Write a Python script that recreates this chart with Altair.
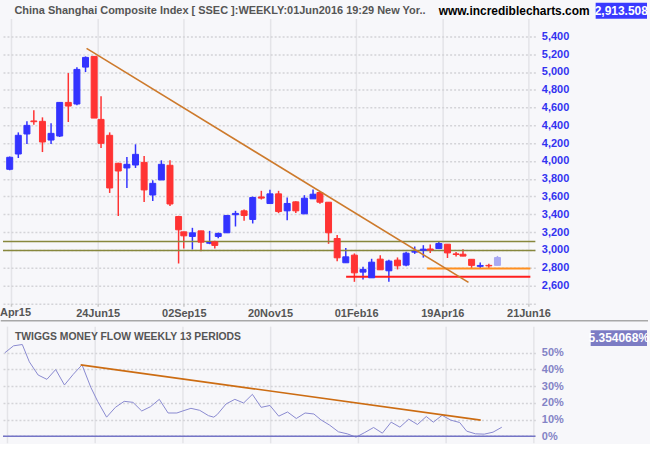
import altair as alt
import pandas as pd

FONT = "Liberation Sans"

# ---- weekly bars: x is the trading-day index of each week's last session ----
bar_t = [-1, 4, 9, 13, 18, 23, 28, 33, 38, 43,
         48, 52, 57, 62, 67, 72, 77, 82, 87, 92,
         97, 100, 105, 110, 115, 118, 120, 125, 130, 135,
         140, 145, 150, 155, 160, 165, 170, 175, 179, 184,
         189, 194, 199, 204, 209, 214, 219, 224, 229, 234,
         239, 243, 248, 253, 258, 262, 267, 272, 277, 282]
bar_open = [3906, 4078, 4303, 4450, 4445, 4235, 4280, 4658, 4640, 5055,
            5175, 4467, 4288, 3973, 3921, 3954, 3984, 3617, 3786, 3951,
            3375, 3203, 3151, 3214, 3075, 3091, 3151, 3192, 3395, 3439,
            3342, 3595, 3521, 3630, 3439, 3540, 3405, 3574, 3645, 3536,
            3128, 2855, 2941, 2750, 2686, 2896, 2765, 2885, 2829, 2975,
            2995, 3010, 3015, 3064, 2955, 2951, 2894, 2815, 2826, 2826]
bar_high = [4050, 4321, 4445, 4569, 4490, 4423, 4660, 4988, 5052, 5175,
            5178, 4726, 4321, 3980, 4044, 4187, 4056, 3782, 4007, 4007,
            3383, 3203, 3248, 3214, 3214, 3102, 3196, 3391, 3439, 3454,
            3600, 3664, 3675, 3664, 3589, 3548, 3615, 3679, 3656, 3536,
            3166, 3020, 2960, 2810, 2900, 2941, 2889, 2915, 2978, 3038,
            3053, 3060, 3098, 3064, 2977, 3008, 2894, 2857, 2845, 2932]
bar_low = [3895, 4033, 4190, 4408, 4100, 4190, 4269, 4438, 4625, 4999,
           4482, 4145, 3640, 3381, 3696, 3921, 3539, 3550, 3786, 3494,
           2847, 3016, 3005, 2986, 3064, 3016, 3132, 3192, 3263, 3327,
           3297, 3566, 3521, 3413, 3334, 3416, 3405, 3574, 3518, 3068,
           2873, 2855, 2641, 2667, 2686, 2776, 2641, 2780, 2817, 2955,
           2913, 2966, 3015, 2909, 2925, 2928, 2789, 2789, 2792, 2826]
bar_close = [4041, 4288, 4400, 4441, 4213, 4310, 4658, 4617, 5029, 5164,
             4482, 4198, 3696, 3887, 3962, 4074, 3674, 3748, 3962, 3516,
             3226, 3158, 3192, 3087, 3083, 3050, 3184, 3387, 3410, 3387,
             3589, 3582, 3630, 3431, 3522, 3439, 3581, 3626, 3536, 3192,
             2911, 2922, 2742, 2781, 2862, 2776, 2874, 2821, 2963, 2980,
             3008, 2998, 3072, 2966, 2948, 2930, 2826, 2825, 2820, 2913.508]
tmf_pct = [50.0, 54.2, 55.0, 44.6, 36.7, 34.1, 40.0, 30.7, 37.1, 42.8,
           29.3, 20.7, 11.4, 17.3, 20.9, 20.3, 15.1, 17.7, 22.1, 13.9,
           13.9, 15.0, 16.7, 15.5, 12.3, 11.4, 13.0, 19.3, 22.1, 19.9,
           25.1, 17.3, 18.4, 12.0, 14.5, 10.6, 13.9, 13.3, 9.8, 6.6,
           2.6, 1.4, -0.6, 2.2, 5.2, 1.8, 8.4, 5.4, 10.2, 7.0,
           11.8, 8.4, 12.5, 9.6, 8.2, 3.0, 1.4, 1.2, 2.4, 5.354068]

x_tick_t = [0, 50, 100, 150, 200, 250, 300]
x_tick_labels = ["Apr15", "24Jun15", "02Sep15", "20Nov15", "01Feb16", "19Apr16", "21Jun16"]
price_ticks = list(range(2400, 5401, 200))
pct_ticks = [0, 10, 20, 30, 40, 50]

olive_levels = [3095, 2993]
red_support = {"level": [2698], "t0": [194.2], "t1": [301.1]}
orange_support = {"level": [2792], "t0": [241.2], "t1": [301.1]}

trend_price_t = [43.6, 265.2]
trend_price = [5265, 2634]
trend_tmf_t = [42.2, 270.0]
trend_tmf = [42.8, 9.6]

title_text = "China Shanghai Composite Index [ SSEC ]:WEEKLY:01Jun2016 19:29 New Yor.."
site_text = "www.incrediblecharts.com"
panel2_title = "TWIGGS MONEY FLOW WEEKLY 13 PERIODS"
last_price = [2913.508]
last_tmf = [5.354068]

# ---- tables ----
kinds = ["down" if c < o else "up" for o, c in zip(bar_open, bar_close)]
kinds[-1] = "partial"
bars = pd.DataFrame({"t": bar_t, "open": bar_open, "high": bar_high,
                     "low": bar_low, "close": bar_close, "kind": kinds, "tmf": tmf_pct})
olive_df = pd.DataFrame({"level": olive_levels})
red_df = pd.DataFrame(red_support)
orange_df = pd.DataFrame(orange_support)
trend1_df = pd.DataFrame({"t": trend_price_t, "price": trend_price})
trend2_df = pd.DataFrame({"t": trend_tmf_t, "pct": trend_tmf})
zero_df = pd.DataFrame({"pct": [0]})

W = 534
H1 = 285.5
H2 = 117

xs = alt.Scale(domain=[-2, 301.1], nice=False, zero=False)
ys1 = alt.Scale(domain=[2400, 5600], nice=False, zero=False)
ys2 = alt.Scale(domain=[-4, 66], nice=False, zero=False)

# the first label is cut by the left edge in the original; it is drawn as text below
axis_labels = [""] + x_tick_labels[1:]
label_js = ("[" + ",".join(f"'{s}'" for s in axis_labels) + "][indexof(["
            + ",".join(str(v) for v in x_tick_t) + "], datum.value)]")

x_axis_top = alt.Axis(
    values=x_tick_t, labelExpr=label_js, title=None, grid=True,
    gridColor="#e4e4e8", gridWidth=1.5, domain=False, ticks=True, tickSize=3,
    tickColor="#c8c8c8", tickWidth=1.5, labelFont=FONT, labelFontSize=11,
    labelFontWeight="bold", labelColor="#555555", labelPadding=1,
    labelFlush=False, labelOverlap=False,
)
x_axis_bottom = alt.Axis(values=x_tick_t, labels=False, ticks=False, domain=False,
                         grid=True, gridColor="#e4e4e8", gridWidth=1.5, title=None)
y_axis_top = alt.Axis(
    orient="right", values=price_ticks, title=None,
    labelExpr="datum.value < 2500 ? '' : format(datum.value, ',')",
    grid=True, gridDash=[2, 2], gridColor="#d4d4d8", gridWidth=1.5,
    domain=False, ticks=False, labelPadding=6, labelFont=FONT, labelFontSize=11,
    labelFontWeight="bold", labelColor="#3333f0", labelAlign="left",
)
y_axis_bottom = alt.Axis(
    orient="right", values=pct_ticks, title=None, labelExpr="datum.value + '%'",
    grid=True, gridDash=[2, 2], gridColor="#d4d4d8", gridWidth=1.5,
    domain=False, ticks=False, labelPadding=6, labelFont=FONT, labelFontSize=11,
    labelFontWeight="bold", labelColor="#8383c6", labelAlign="left",
)


def X1(f):
    return alt.X(f, scale=xs, axis=x_axis_top)


def Y1(f):
    return alt.Y(f, scale=ys1, axis=y_axis_top)


def X2(f):
    return alt.X(f, scale=xs, axis=x_axis_bottom)


def Y2(f):
    return alt.Y(f, scale=ys2, axis=y_axis_bottom)


candle_color = alt.Color("kind:N", legend=None,
                         scale=alt.Scale(domain=["down", "up", "partial"],
                                         range=["#ff3333", "#3333ff", "#a9a9f2"]))

base = alt.Chart(bars)
wicks = base.mark_rule(strokeWidth=1.5).encode(
    x=X1("t:Q"), y=Y1("low:Q"), y2="high:Q", color=candle_color)
bodies = base.mark_bar(size=6, strokeWidth=1).encode(
    x=X1("t:Q"), y=Y1("open:Q"), y2="close:Q", color=candle_color, stroke=candle_color)
olive = alt.Chart(olive_df).mark_rule(color="#87873c", strokeWidth=1.6).encode(
    y=Y1("level:Q"))
red_line = alt.Chart(red_df).mark_rule(color="#ff1f1f", strokeWidth=2).encode(
    x=X1("t0:Q"), x2="t1:Q", y=Y1("level:Q"))
orange_line = alt.Chart(orange_df).mark_rule(color="#ff8f1f", strokeWidth=2).encode(
    x=X1("t0:Q"), x2="t1:Q", y=Y1("level:Q"))
trend1 = alt.Chart(trend1_df).mark_line(color="#cd7a2c", strokeWidth=1.6).encode(
    x=X1("t:Q"), y=Y1("price:Q"))

head_df = pd.DataFrame({"title": [title_text], "site": [site_text], "v": last_price,
                        "first": [x_tick_labels[0]]})
head = alt.Chart(head_df)
title_mark = head.mark_text(align="left", baseline="middle", font=FONT, fontSize=11,
                            fontWeight="bold", color="#555555").encode(
    x=alt.value(11.5), y=alt.value(-8), text="title:N")
site_mark = head.mark_text(align="left", baseline="middle", font=FONT, fontSize=12,
                           fontWeight="bold", color="#000000").encode(
    x=alt.value(437), y=alt.value(-8), text="site:N")
box1 = head.mark_rect(color="#3a3aff").encode(
    x=alt.value(594.5), x2=alt.value(646), y=alt.value(-16), y2=alt.value(0))
box1_text = head.mark_text(align="center", baseline="middle", font=FONT, fontSize=12,
                           fontWeight="bold", color="#ffffff").encode(
    x=alt.value(620.2), y=alt.value(-8), text=alt.Text("v:Q", format=",.3f"))
first_label = head.mark_text(align="left", baseline="top", font=FONT, fontSize=11,
                             fontWeight="bold", color="#555555").encode(
    x=alt.value(-3), y=alt.value(H1 + 4), text="first:N")

top = alt.layer(wicks, olive, red_line, orange_line, bodies, trend1, title_mark,
                site_mark, box1, box1_text, first_label).properties(width=W, height=H1)

tmf_line = base.mark_line(color="#8a8ad0", strokeWidth=1).encode(
    x=X2("t:Q"), y=Y2("tmf:Q"))
zero_line = alt.Chart(zero_df).mark_rule(color="#7474c6", strokeWidth=1.5).encode(
    y=Y2("pct:Q"))
trend2 = alt.Chart(trend2_df).mark_line(color="#cc6c12", strokeWidth=1.6).encode(
    x=X2("t:Q"), y=Y2("pct:Q"))

foot_df = pd.DataFrame({"title": [panel2_title], "v": last_tmf})
foot = alt.Chart(foot_df).transform_calculate(lbl="format(datum.v, '.6f') + '%'")
sep = foot.mark_rule(color="#a8a8a8", strokeWidth=1.5).encode(
    x=alt.value(-2.2), x2=alt.value(W + 113), y=alt.value(-5.5))
p2_title = foot.mark_text(align="left", baseline="middle", font=FONT, fontSize=10.4,
                          fontWeight="bold", color="#555555").encode(
    x=alt.value(12), y=alt.value(11), text="title:N")
box2 = foot.mark_rect(color="#7c7cc4").encode(
    x=alt.value(589.5), x2=alt.value(646), y=alt.value(4), y2=alt.value(20))
box2_text = foot.mark_text(align="center", baseline="middle", font=FONT, fontSize=12,
                           fontWeight="bold", color="#ffffff").encode(
    x=alt.value(617.7), y=alt.value(12), text="lbl:N")

bottom = alt.layer(tmf_line, zero_line, trend2, sep, p2_title, box2,
                   box2_text).properties(width=W, height=H2)

chart = alt.vconcat(top, bottom, spacing=22.5, bounds="flush").properties(
    background="#f7f7fa",
    padding={"left": 0, "top": 2, "right": 0, "bottom": 0},
).configure_view(stroke=None)

chart.save("out.html", embed_options={"renderer": "svg", "actions": False})
